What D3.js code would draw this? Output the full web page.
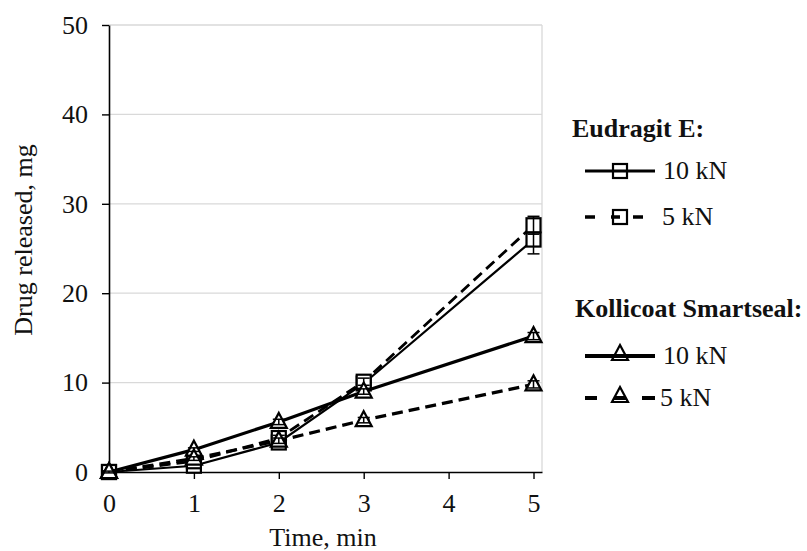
<!DOCTYPE html>
<html><head><meta charset="utf-8">
<script src="https://cdn.jsdelivr.net/npm/d3@7"></script>
<style>body{margin:0;background:#fff}svg text{font-family:"Liberation Serif","Times New Roman",serif}</style>
</head><body><svg id="c" width="807" height="551"></svg>
<script>
const times = [0, 1, 2, 3, 5];
const eudragit10 = [0, 0.7, 3.3, 9.9, 26.0];
const eudragit10Err = [0.1, 0.2, 0.3, 0.4, 1.6];
const eudragit5 = [0, 1.2, 3.8, 10.1, 27.6];
const eudragit5Err = [0.1, 0.2, 0.3, 0.4, 1.0];
const kollicoat10 = [0, 2.5, 5.6, 9.0, 15.2];
const kollicoat10Err = [0.1, 0.2, 0.3, 0.3, 0.4];
const kollicoat5 = [0, 1.5, 3.5, 5.8, 9.8];
const kollicoat5Err = [0.1, 0.2, 0.3, 0.3, 0.4];
const xTicks = [0, 1, 2, 3, 4, 5];
const yTicks = [0, 10, 20, 30, 40, 50];

const series = [
  {vals:eudragit10, err:eudragit10Err, marker:"square", dash:null, w:2.2, legDash:null},
  {vals:eudragit5, err:eudragit5Err, marker:"square", dash:"11,6", w:2.8, legDash:"10,16,9,13,10,40"},
  {vals:kollicoat10, err:kollicoat10Err, marker:"triangle", dash:null, w:3.2, legDash:null},
  {vals:kollicoat5, err:kollicoat5Err, marker:"triangle", dash:"11,6", w:3.2, legDash:"12,17,12,16,13,40"}
];

const svg = d3.select("#c");
const FONT = "'Liberation Serif', 'Times New Roman', serif";
const x = d3.scaleLinear().domain([0, 5.1]).range([109, 542]);
const y = d3.scaleLinear().domain([0, 50]).range([472, 25]);

// gridlines
svg.append("g").selectAll("line").data(yTicks.filter(d=>d>0)).join("line")
  .attr("x1", x(0)).attr("x2", x(5.1)).attr("y1", d=>y(d)).attr("y2", d=>y(d))
  .attr("stroke", "#d9d9d9").attr("stroke-width", 1.3);
svg.append("line").attr("x1", x(5.1)).attr("x2", x(5.1)).attr("y1", y(0)).attr("y2", y(50))
  .attr("stroke", "#d9d9d9").attr("stroke-width", 1.3);

// axes
const yAxis = svg.append("g").attr("transform", `translate(${x(0)},0)`)
  .call(d3.axisLeft(y).tickValues(yTicks).tickFormat(d3.format("d")).tickSize(7).tickPadding(14).tickSizeOuter(0));
const xAxis = svg.append("g").attr("transform", `translate(0,${y(0)})`)
  .call(d3.axisBottom(x).tickValues(xTicks).tickFormat(d3.format("d")).tickSize(7).tickPadding(15).tickSizeOuter(0));
[yAxis, xAxis].forEach(a => {
  a.attr("font-family", null).attr("font-size", null);
  a.select(".domain").attr("stroke", "#000").attr("stroke-width", 1.6);
  a.selectAll(".tick line").attr("stroke", "#000").attr("stroke-width", 1.4);
  a.selectAll("text").style("font-family", FONT).style("font-size", "26px").attr("fill", "#111");
});

// axis titles
svg.append("text").attr("x", 323).attr("y", 546).attr("text-anchor", "middle")
  .style("font-family", FONT).style("font-size", "26px").attr("fill", "#111").text("Time, min");
svg.append("text").attr("transform", "translate(32,240) rotate(-90)").attr("text-anchor", "middle")
  .style("font-family", FONT).style("font-size", "26px").attr("fill", "#111").text("Drug released, mg");

function drawMarker(g, type, cx, cy) {
  if (type === "square") {
    g.append("rect").attr("x", cx-7).attr("y", cy-7).attr("width", 14).attr("height", 14)
      .attr("fill", "#fff").attr("stroke", "#000").attr("stroke-width", 2.2);
  } else {
    g.append("path").attr("d", `M${cx},${cy-9}L${cx+8},${cy+6}L${cx-8},${cy+6}Z`)
      .attr("fill", "#fff").attr("stroke", "#000").attr("stroke-width", 2.2).attr("stroke-linejoin","miter");
  }
}

const line = d3.line().x((d,i)=>x(times[i])).y(d=>y(d));
series.forEach(s => {
  const g = svg.append("g");
  g.append("path").datum(s.vals).attr("d", line).attr("fill", "none")
    .attr("stroke", "#000").attr("stroke-width", s.w)
    .attr("stroke-dasharray", s.dash);
  s.vals.forEach((v,i) => drawMarker(g, s.marker, x(times[i]), y(v)));
  s.vals.forEach((v,i) => {
    const cx = x(times[i]);
    g.append("line").attr("x1", cx).attr("x2", cx).attr("y1", y(v - s.err[i])).attr("y2", y(v + s.err[i]))
      .attr("stroke", "#000").attr("stroke-width", 1.5);
    [v - s.err[i], v + s.err[i]].forEach(e => g.append("line")
      .attr("x1", cx-6).attr("x2", cx+6).attr("y1", y(e)).attr("y2", y(e))
      .attr("stroke", "#000").attr("stroke-width", 1.5));
  });
});

// legend
const legend = [
  {title:"Eudragit E:", tx:572, ty:137, rows:[{s:series[0], label:"10 kN", y:171, tx:663},{s:series[1], label:"5 kN", y:217, tx:662}]},
  {title:"Kollicoat Smartseal:", tx:575, ty:317, rows:[{s:series[2], label:"10 kN", y:356, tx:663},{s:series[3], label:"5 kN", y:398, tx:660}]}
];
legend.forEach(grp => {
  svg.append("text").attr("x", grp.tx).attr("y", grp.ty).style("font-family", FONT).style("font-size", "26px")
    .attr("font-weight", "bold").attr("fill", "#111").text(grp.title);
  grp.rows.forEach(r => {
    const lg = svg.append("g");
    drawMarker(lg, r.s.marker, 620, r.y - (r.s.marker === "triangle" ? 2 : 0));
    lg.append("line").attr("x1", 585).attr("x2", 655).attr("y1", r.y).attr("y2", r.y)
      .attr("stroke", "#000").attr("stroke-width", r.s.w + 0.6)
      .attr("stroke-dasharray", r.s.legDash);
    svg.append("text").attr("x", r.tx).attr("y", r.y + 8).style("font-family", FONT).style("font-size", "26px")
      .attr("fill", "#111").text(r.label);
  });
});
</script></body></html>
